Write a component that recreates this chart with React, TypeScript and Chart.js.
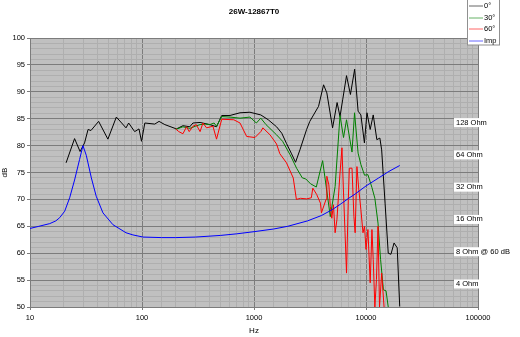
import { useEffect, useRef } from 'react';
import { Chart, registerables } from 'chart.js';

Chart.register(...registerables);

const chartTitle = '26W-12867T0';
const xTitle = 'Hz';
const yTitle = 'dB';
const seriesNames = ['0°', '30°', '60°', 'Imp'];
const seriesColors = ['#000000', '#008000', '#ff0000', '#0000ff'];
const ohmLabels = ['128 Ohm', '64 Ohm', '32 Ohm', '16 Ohm', '8 Ohm @ 60 dB', '4 Ohm'];
const ohmDb = [84, 78, 72, 66, 60, 54];

const freq0 = [21, 25, 28, 30.7, 33, 35, 41, 49.6, 59, 72, 76, 86, 94, 99, 106, 130, 142, 160, 203, 232, 267, 285, 330, 403, 463, 515, 610, 750, 920, 1150, 1340, 1590, 1770, 1950, 2150, 2350, 2570, 2950, 3150, 3770, 4180, 4470, 5030, 5520, 5860, 6190, 6700, 7260, 7920, 8500, 9000, 9680, 10200, 10900, 11600, 12500, 13300, 13800, 14800, 15800, 16700, 17800, 19000, 20000];
const db0 = [76.8, 81.3, 78.9, 80.5, 83.0, 82.8, 84.5, 81.2, 85.3, 83.3, 84.2, 82.6, 83.1, 80.8, 84.2, 84.0, 84.5, 83.9, 83.1, 83.7, 83.5, 84.2, 84.3, 83.9, 83.5, 85.6, 85.6, 86.1, 86.2, 85.7, 84.8, 83.5, 82.3, 80.4, 78.6, 76.9, 79.2, 83.0, 84.5, 87.3, 91.3, 89.8, 83.3, 88.0, 85.4, 88.5, 93.0, 89.5, 94.2, 86.4, 85.7, 80.5, 86.1, 83.0, 85.7, 81.1, 81.4, 79.2, 69.3, 60.0, 59.8, 61.9, 61.0, 50.1];

const freq30 = [200, 232, 267, 300, 330, 370, 403, 440, 463, 515, 610, 750, 920, 1050, 1150, 1280, 1590, 1800, 2100, 2400, 2700, 2900, 3200, 3600, 4100, 4800, 5300, 5860, 6300, 6700, 7500, 7900, 8500, 9000, 9700, 10400, 11300, 12000, 12800, 13500, 14300, 15100, 15800];
const db30 = [83.0, 83.5, 83.2, 83.6, 83.9, 84.0, 83.9, 84.2, 83.6, 85.4, 85.3, 85.1, 85.3, 84.2, 85.1, 83.9, 82.0, 80.8, 78.3, 75.8, 74.0, 73.8, 72.9, 72.3, 77.2, 66.8, 72.4, 85.6, 81.5, 84.8, 78.8, 86.1, 78.6, 76.5, 74.5, 74.6, 72.2, 70.2, 65.6, 58.8, 53.2, 53.0, 50.0];

const freq60 = [200, 213, 232, 250, 264, 285, 305, 330, 350, 377, 430, 463, 515, 660, 750, 860, 1020, 1150, 1200, 1390, 1590, 1700, 1950, 2240, 2390, 2600, 2950, 3250, 3350, 3630, 3920, 4000, 4400, 4470, 4660, 4800, 4950, 5120, 5300, 5500, 5860, 6100, 6300, 6500, 6700, 6950, 7100, 7500, 7800, 8000, 8300, 8600, 9000, 9400, 9700, 10000, 10400, 10900, 11300, 11600, 12000, 12400, 12800, 13200, 13800, 14500];
const db60 = [83.1, 82.6, 82.2, 83.5, 82.6, 83.6, 83.9, 82.6, 84.2, 83.3, 83.6, 81.2, 84.9, 84.8, 84.2, 81.7, 81.5, 82.6, 83.3, 82.0, 80.3, 78.5, 76.8, 74.0, 70.0, 70.2, 70.1, 70.3, 72.1, 70.9, 69.3, 67.5, 70.0, 74.3, 72.7, 68.7, 66.5, 69.0, 63.8, 66.2, 74.9, 79.6, 71.2, 63.8, 56.3, 70.0, 75.8, 75.8, 66.8, 63.8, 76.1, 72.1, 68.1, 63.8, 65.0, 60.7, 64.4, 54.5, 64.4, 58.8, 50.0, 55.1, 65.0, 50.0, 56.3, 50.0];

const freqImp = [10, 12, 15, 17, 18.4, 20.4, 22.6, 25, 27.7, 29.7, 31.8, 35.3, 39, 44.8, 55, 72, 83, 102, 150, 200, 300, 500, 700, 1000, 1500, 2000, 3000, 4000, 5000, 6000, 7000, 8000, 10000, 13000, 16000, 20000];
const dbImp = [64.6, 65.0, 65.5, 66.0, 66.6, 67.8, 70.3, 73.6, 77.4, 80.0, 78.2, 74.0, 70.6, 67.5, 65.3, 63.8, 63.4, 63.0, 62.9, 62.9, 63.0, 63.3, 63.6, 64.0, 64.5, 65.0, 66.0, 67.0, 68.1, 69.2, 70.2, 71.0, 72.5, 74.0, 75.2, 76.3];

const FONT = "'Liberation Sans', Arial, sans-serif";
const MAJOR = '#7c7c7c';
const MINOR = '#afafaf';

const isDecade = (v: any) => {
  if (typeof v !== 'number' || v <= 0) return false;
  const l = Math.log10(v);
  return Math.abs(l - Math.round(l)) < 1e-9;
};

const toPts = (f: number[], d: number[]) => f.map((x, i) => ({ x, y: d[i] }));

const decor = {
  id: 'decor',
  beforeDraw(chart: any) {
    const { ctx, chartArea: a } = chart;
    ctx.save();
    ctx.fillStyle = '#c0c0c0';
    ctx.fillRect(a.left, a.top, a.right - a.left, a.bottom - a.top);
    ctx.restore();
  },
  afterDraw(chart: any) {
    const { ctx, chartArea: a } = chart;
    const ys = chart.scales.y;
    ctx.save();
    ctx.fillStyle = '#000';
    ctx.font = `bold 8px ${FONT}`;
    ctx.textAlign = 'center';
    ctx.textBaseline = 'middle';
    ctx.fillText(chartTitle, (a.left + a.right) / 2, 12);
    ctx.font = `8px ${FONT}`;
    ctx.fillText(xTitle, (a.left + a.right) / 2, 331);
    ctx.save();
    ctx.translate(5, (a.top + a.bottom) / 2);
    ctx.rotate(-Math.PI / 2);
    ctx.fillText(yTitle, 0, 0);
    ctx.restore();
    ctx.textAlign = 'left';
    ctx.font = `7.5px ${FONT}`;
    ohmLabels.forEach((t, i) => {
      const y = ys.getPixelForValue(ohmDb[i]) - 1.5;
      const x = 456;
      const w = ctx.measureText(t).width;
      ctx.fillStyle = '#ffffff';
      ctx.fillRect(x - 2, y - 4.5, w + 4, 9);
      ctx.fillStyle = '#000';
      ctx.fillText(t, x, y);
    });
    ctx.fillStyle = '#ffffff';
    ctx.fillRect(467.5, -0.5, 32, 45.5);
    ctx.strokeStyle = '#909090';
    ctx.lineWidth = 1;
    ctx.strokeRect(467.5, -0.5, 32, 45.5);
    seriesNames.forEach((n, i) => {
      const y = 6 + i * 11.5;
      ctx.strokeStyle = seriesColors[i];
      ctx.globalAlpha = 0.6;
      ctx.beginPath();
      ctx.moveTo(469, Math.round(y));
      ctx.lineTo(483, Math.round(y));
      ctx.stroke();
      ctx.globalAlpha = 1;
      ctx.fillStyle = '#000';
      ctx.font = `7.5px ${FONT}`;
      ctx.fillText(n, 484, y);
    });
    ctx.restore();
  },
};

export default function App() {
  const ref = useRef<HTMLCanvasElement | null>(null);
  useEffect(() => {
    if (!ref.current) return;
    const mk = (i: number, f: number[], d: number[]) => ({
      label: seriesNames[i],
      data: toPts(f, d),
      borderColor: seriesColors[i],
      backgroundColor: seriesColors[i],
      borderWidth: 1,
      pointRadius: 0,
      fill: false,
      tension: 0,
    });
    const chart = new Chart(ref.current, {
      type: 'line',
      data: {
        datasets: [
          mk(3, freqImp, dbImp),
          mk(2, freq60, db60),
          mk(1, freq30, db30),
          mk(0, freq0, db0),
        ],
      },
      options: {
        responsive: false,
        animation: false,
        devicePixelRatio: 1,
        layout: { padding: { top: 38, right: 42, left: 0, bottom: 0 } },
        plugins: { legend: { display: false }, tooltip: { enabled: false }, title: { display: false } },
        scales: {
          x: {
            type: 'logarithmic',
            min: 10,
            max: 100000,
            afterFit: (s: any) => { s.height = 30; },
            ticks: {
              autoSkip: false,
              maxRotation: 0,
              minRotation: 0,
              padding: 3,
              color: '#000',
              font: { family: FONT, size: 7.5 },
              callback: (v: any) => (isDecade(Number(v)) ? String(Number(v)) : ''),
            },
            grid: {
              color: (c: any) => (isDecade(c.tick?.value) ? MAJOR : MINOR),
              tickColor: (c: any) => (isDecade(c.tick?.value) ? MAJOR : 'rgba(0,0,0,0)'),
              tickLength: 3,
              lineWidth: 1,
            },
            border: { color: MAJOR },
          },
          y: {
            type: 'linear',
            min: 50,
            max: 100,
            afterFit: (s: any) => { s.width = 30; },
            ticks: {
              stepSize: 1,
              autoSkip: false,
              padding: 2,
              color: '#000',
              font: { family: FONT, size: 7.5 },
              callback: (v: any) => (Number(v) % 5 === 0 ? String(v) : ''),
            },
            grid: {
              color: (c: any) => (c.tick && c.tick.value % 5 === 0 ? MAJOR : MINOR),
              tickColor: (c: any) => (c.tick && c.tick.value % 5 === 0 ? MAJOR : 'rgba(0,0,0,0)'),
              tickLength: 3,
              lineWidth: 1,
            },
            border: { color: MAJOR },
          },
        },
      },
      plugins: [decor],
    } as any);
    return () => chart.destroy();
  }, []);
  return (
    <div style={{ position: 'absolute', left: 0, top: 0, width: 520, height: 337 }}>
      <canvas ref={ref} width={520} height={337} style={{ display: 'block' }} />
    </div>
  );
}
